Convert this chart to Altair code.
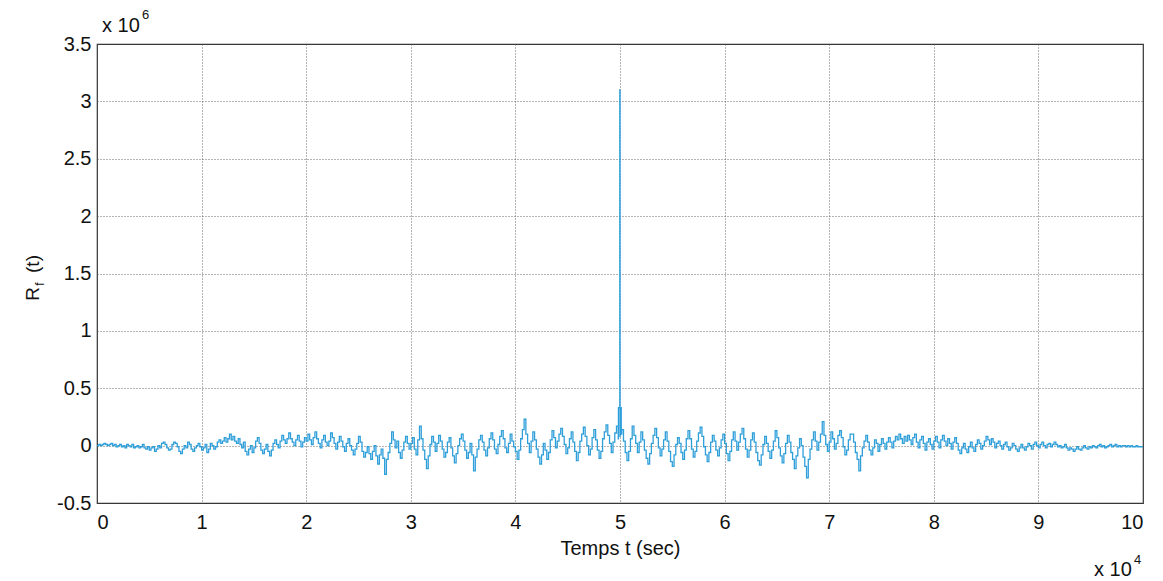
import altair as alt
import pandas as pd

# Values in units of 1e6, time in units of 1e4 s (60 samples per unit)
s0 = [0.00,0.01,0.00,0.01,0.02,0.01,0.00,0.01,0.02,0.00,0.01,-0.01,0.00,0.01,-0.01,0.00,-0.02,0.01,0.00,-0.01,
      0.01,-0.02,-0.01,0.00,-0.02,-0.01,0.01,-0.02,-0.03,-0.01,-0.04,-0.02,-0.01,-0.05,-0.03,0.00,-0.02,0.02,0.03,0.01,
      -0.02,-0.04,-0.03,0.01,0.03,0.02,-0.01,-0.05,-0.07,-0.03,0.00,-0.02,0.03,0.01,-0.03,-0.05,-0.02,0.00,0.02,-0.01]
s1 = [-0.04,-0.02,0.01,-0.06,-0.03,0.02,0.00,-0.03,-0.01,0.03,0.05,0.02,0.04,0.07,0.03,0.06,0.10,0.05,0.08,0.04,
      0.02,0.06,0.01,-0.02,0.03,-0.05,-0.08,-0.03,0.00,-0.06,-0.02,0.04,0.07,0.02,-0.04,-0.07,-0.03,0.01,-0.05,-0.09,
      -0.04,0.02,0.05,0.01,-0.02,0.04,0.09,0.05,0.02,0.06,0.11,0.06,0.03,0.00,0.05,0.09,0.04,-0.01,0.03,0.07]
s2 = [0.04,0.10,0.05,0.01,0.07,0.12,0.06,0.02,-0.02,0.05,0.09,0.03,0.00,0.04,0.11,0.07,0.02,-0.03,0.03,0.08,
      0.04,-0.01,-0.05,0.02,0.06,0.00,-0.04,-0.08,-0.03,0.02,0.08,0.03,-0.05,-0.10,-0.06,-0.01,-0.07,-0.12,-0.05,0.00,
      -0.09,-0.16,-0.08,-0.03,-0.11,-0.25,-0.12,-0.06,0.02,0.12,0.05,-0.02,0.04,-0.06,-0.11,-0.04,0.03,0.08,0.02,-0.03]
s3 = [0.02,0.07,-0.03,-0.08,0.05,0.17,0.06,-0.04,-0.12,-0.20,-0.09,0.01,0.08,0.03,-0.05,0.02,0.09,0.04,-0.03,-0.10,
      -0.06,0.03,0.07,-0.02,-0.09,-0.15,-0.07,0.00,0.06,0.10,0.04,-0.04,-0.11,-0.06,0.02,-0.08,-0.22,-0.10,-0.03,0.05,
      0.09,0.03,-0.04,-0.09,-0.02,0.06,0.11,0.05,-0.03,-0.07,0.01,0.08,0.13,0.06,-0.02,-0.06,0.02,0.10,0.04,-0.01]
s4 = [-0.05,-0.12,-0.04,0.06,0.14,0.23,0.10,0.02,-0.06,0.04,0.12,0.05,-0.03,-0.10,-0.16,-0.08,0.02,-0.04,-0.12,-0.06,
      0.05,0.13,0.07,-0.02,0.04,0.10,0.15,0.08,0.01,-0.07,-0.02,0.06,0.12,0.03,-0.05,-0.13,-0.06,0.04,0.10,0.16,
      0.08,0.00,-0.08,-0.03,0.07,0.14,0.05,-0.04,-0.11,-0.05,0.06,0.12,0.18,0.09,0.02,-0.06,0.03,0.11,0.17,0.06]
s5 = [0.08,0.14,0.04,-0.06,-0.13,-0.05,0.06,0.17,0.09,0.02,-0.06,0.03,0.12,0.05,-0.04,-0.11,-0.16,-0.07,0.02,0.09,
      0.15,0.07,-0.02,-0.09,-0.03,0.05,0.12,0.04,-0.05,-0.14,-0.18,-0.08,0.01,0.07,0.02,-0.06,-0.12,-0.04,0.06,0.13,
      0.06,-0.03,-0.10,-0.05,0.04,0.11,0.16,0.08,-0.01,-0.08,-0.14,-0.06,0.03,0.09,0.04,-0.04,-0.09,-0.02,0.05,0.10]
s6 = [0.02,-0.07,-0.13,-0.05,0.05,0.12,0.04,-0.04,0.03,0.10,0.15,0.06,-0.03,-0.10,-0.04,0.05,0.11,0.03,-0.06,-0.13,
      -0.17,-0.08,0.01,0.08,0.02,-0.05,-0.11,-0.04,0.04,0.13,0.07,-0.02,-0.09,-0.15,-0.07,0.02,0.09,0.03,-0.06,-0.12,
      -0.20,-0.09,-0.02,0.06,0.00,-0.10,-0.18,-0.28,-0.12,-0.03,0.05,0.12,0.04,-0.04,0.03,0.10,0.21,0.09,0.01,-0.05]
s7 = [0.03,0.12,0.06,-0.03,0.02,0.09,0.13,0.07,-0.01,-0.08,-0.04,0.05,0.10,0.10,0.03,-0.06,-0.12,-0.22,-0.09,-0.02,
      0.04,0.09,0.03,-0.04,-0.08,-0.02,0.05,0.02,-0.05,0.01,0.06,0.02,-0.03,0.03,0.07,0.03,-0.02,0.04,0.08,0.05,
      0.10,0.06,0.02,0.08,0.04,0.09,0.05,0.01,0.07,0.10,0.03,-0.02,0.05,0.08,0.02,-0.04,0.03,0.06,0.01,-0.03]
s8 = [0.04,0.08,0.03,-0.02,0.05,0.09,0.04,0.00,0.06,0.02,-0.03,0.03,0.07,0.02,-0.04,-0.07,-0.02,0.02,-0.03,-0.06,
      -0.01,0.03,-0.02,-0.05,0.01,0.05,0.02,-0.03,0.00,0.04,0.08,0.05,0.01,0.06,0.03,-0.02,0.02,0.04,0.00,-0.03,
      0.01,0.03,-0.01,-0.04,-0.02,0.02,0.00,-0.03,-0.05,-0.02,0.01,-0.02,-0.04,-0.01,0.02,0.00,-0.03,0.01,0.03,0.00]
s9 = [-0.02,0.01,0.03,0.00,-0.02,0.01,0.02,-0.01,0.01,0.03,0.01,-0.01,0.00,-0.02,-0.01,0.01,-0.02,-0.04,-0.02,-0.03,
      -0.05,-0.03,-0.01,-0.03,-0.04,-0.02,0.00,-0.02,-0.03,-0.01,-0.02,0.00,-0.01,-0.02,0.00,0.01,-0.01,0.00,-0.02,-0.01,
      0.00,0.01,-0.01,0.00,0.01,-0.01,0.00,-0.01,0.00,0.00,-0.01,0.00,-0.01,0.00,-0.01,-0.01,0.00,-0.01,-0.01,-0.01,-0.01]

spike_t = [4.985, 4.998, 5.002, 5.012]
spike_v = [0.33, 3.10, 0.33, 0.10]

vals = s0 + s1 + s2 + s3 + s4 + s5 + s6 + s7 + s8 + s9
ts = [i / 60 for i in range(len(vals))]
df = pd.DataFrame({"t": ts + spike_t, "r": vals + spike_v}).sort_values("t")

FONT = "Liberation Sans"
BLUE = "#2f9fda"

line = alt.Chart(df).mark_line(color=BLUE, strokeWidth=1.3, interpolate="step-after").encode(
    x=alt.X("t:Q", scale=alt.Scale(domain=[0, 10], nice=False),
            axis=alt.Axis(values=list(range(0, 11)), title="Temps t (sec)", format="d",
                          grid=True, gridDash=[1, 2], gridColor="#444", gridOpacity=0.8,
                          domain=False, ticks=False, labelPadding=9, titlePadding=6)),
    y=alt.Y("r:Q", scale=alt.Scale(domain=[-0.5, 3.5], nice=False),
            axis=alt.Axis(values=[-0.5, 0, 0.5, 1, 1.5, 2, 2.5, 3, 3.5], title=None,
                          labelExpr="datum.value < 0 ? '-' + format(-datum.value, '~g') : format(datum.value, '~g')",
                          grid=True, gridDash=[1, 2], gridColor="#444", gridOpacity=0.8,
                          domain=False, ticks=False, labelPadding=6)),
)

def txt(s, x, y, size, angle=0, align="center"):
    return alt.Chart(pd.DataFrame({"s": [s]})).mark_text(
        font=FONT, fontSize=size, angle=angle, align=align, baseline="middle", color="#111"
    ).encode(text="s:N", x=alt.value(x), y=alt.value(y))

texts = [
    txt("R", -64, 250, 19, angle=270),
    txt("f", -57, 240, 12, angle=270),
    txt("(t)", -64, 220, 19, angle=270),
    txt("x 10", 5, -18, 20, align="left"),
    txt("6", 45, -29, 13, align="left"),
    txt("x 10", 997, 526, 20, align="left"),
    txt("4", 1037, 516, 13, align="left"),
]

chart = alt.layer(line, *texts).properties(
    width=1046, height=459,
    autosize=alt.AutoSizeParams(type="none"),
    padding={"left": 89, "top": 36, "right": 12, "bottom": 78},
    background="white",
).configure_view(stroke="#333", strokeWidth=1.2).configure_axis(
    labelFont=FONT, titleFont=FONT, labelFontSize=20, titleFontSize=20,
    labelColor="#111", titleColor="#111", titleFontWeight="normal",
)

chart.save("out.html", embed_options={"renderer": "svg", "actions": False})
